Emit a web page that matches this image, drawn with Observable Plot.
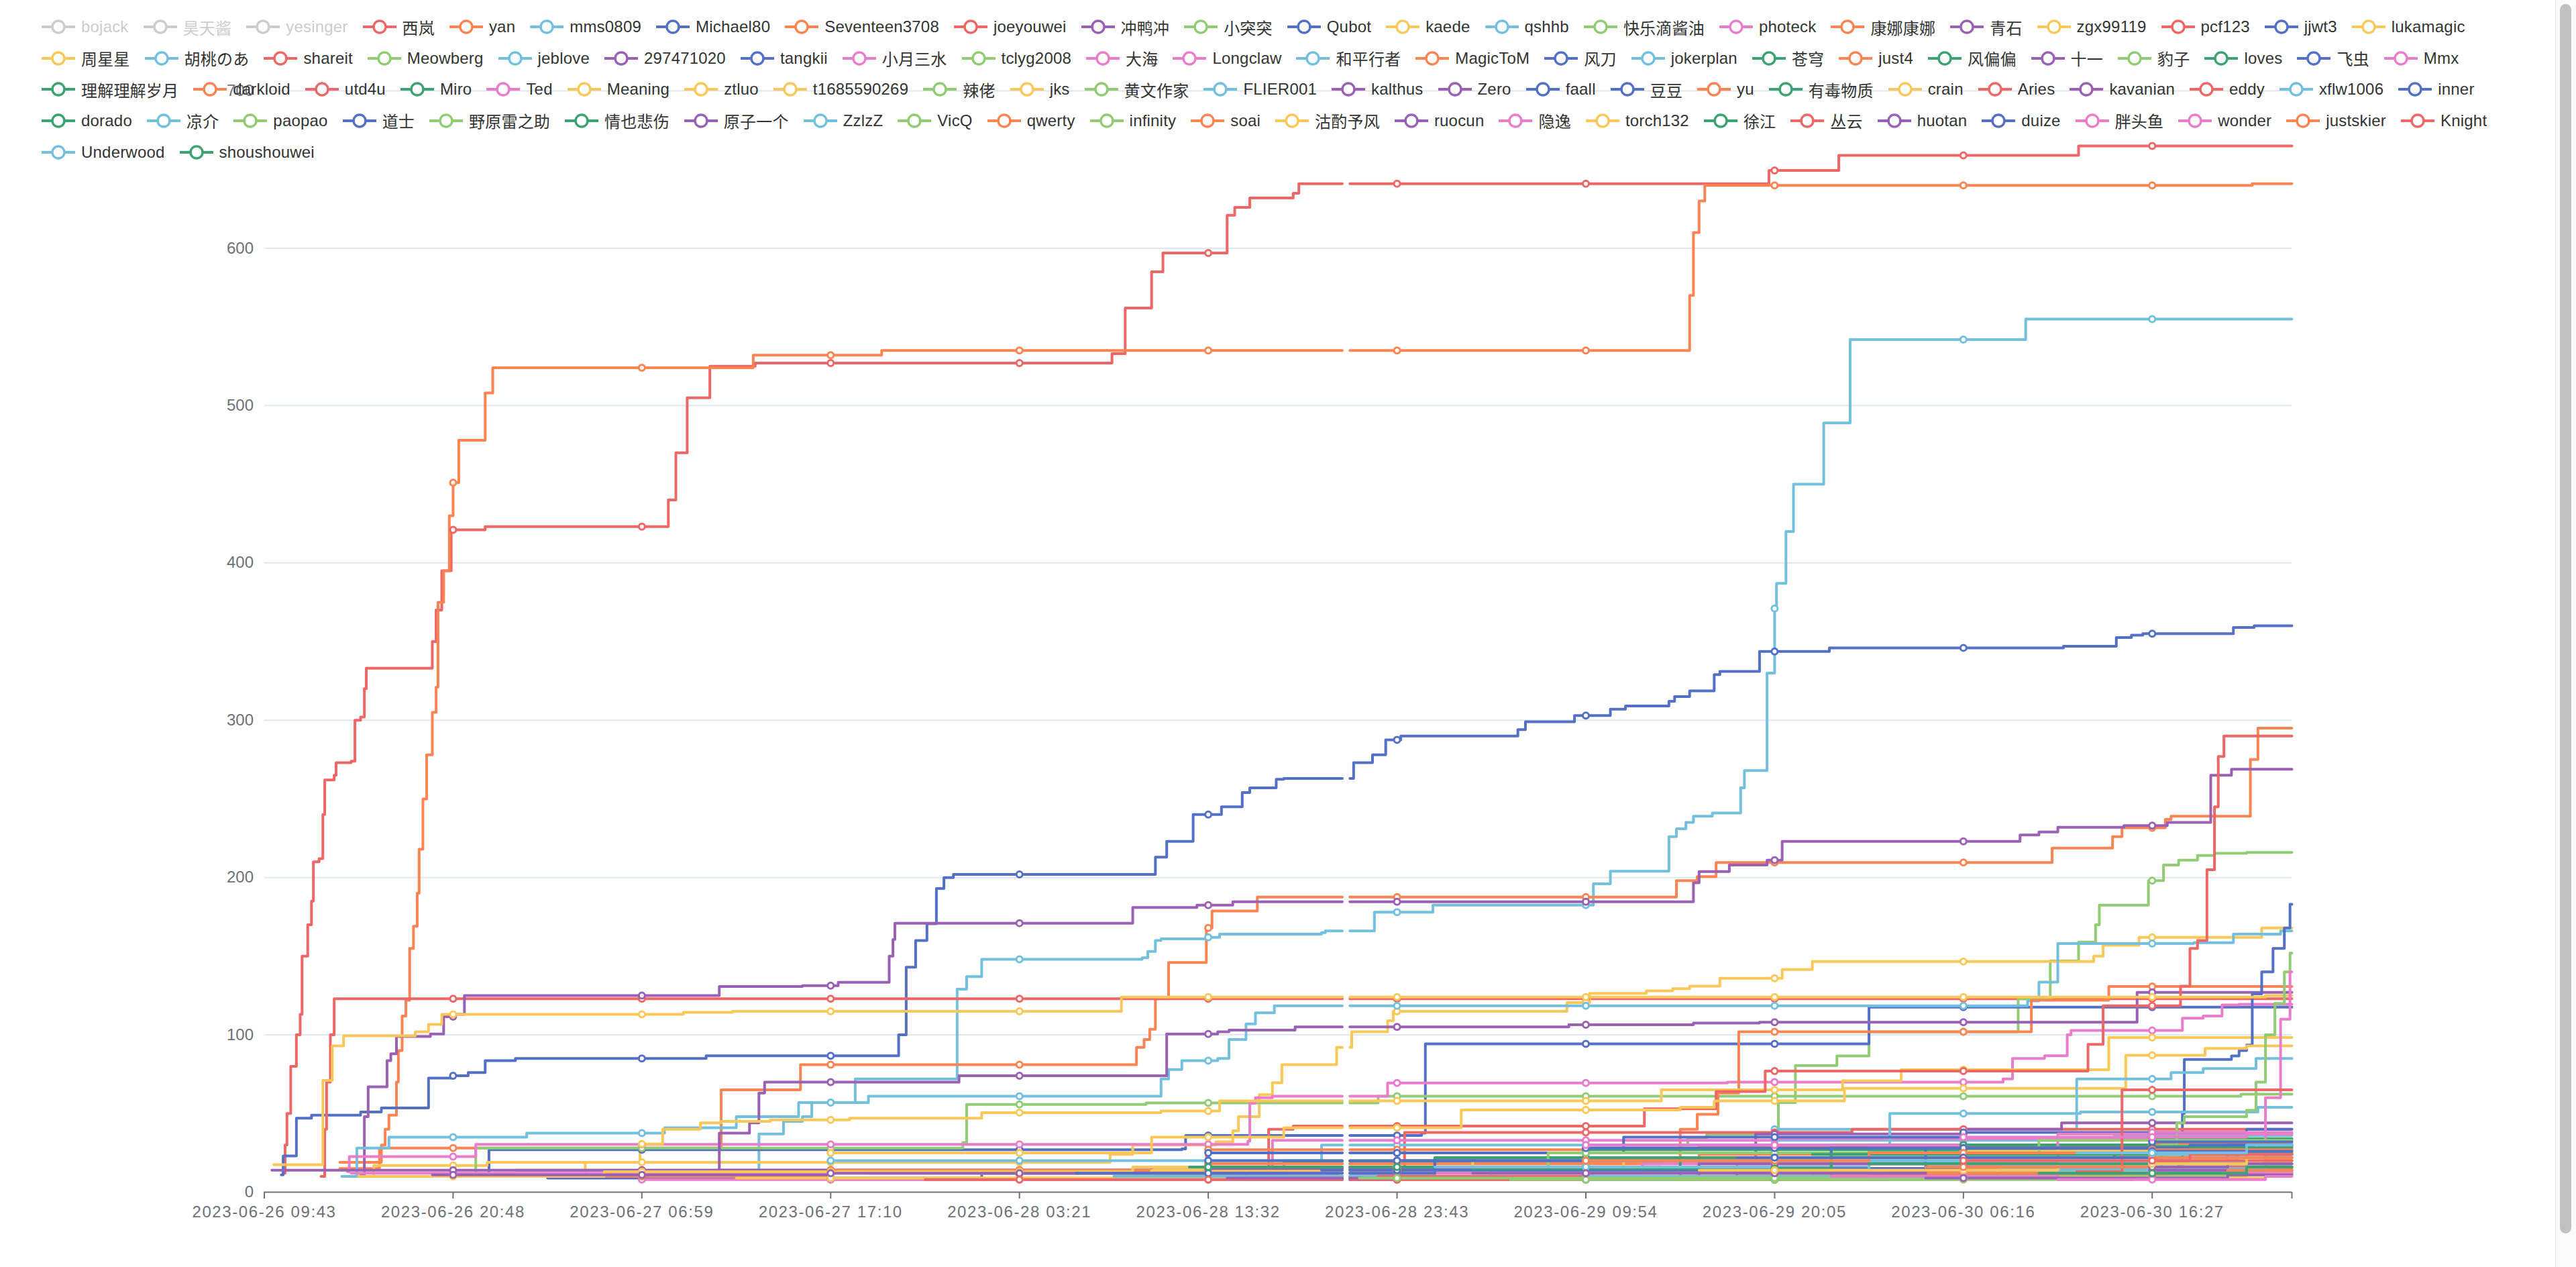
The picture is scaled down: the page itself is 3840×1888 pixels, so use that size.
<!DOCTYPE html>
<html>
<head>
<meta charset="utf-8">
<script src="https://cdn.jsdelivr.net/npm/d3@7"></script>
<script src="https://cdn.jsdelivr.net/npm/@observablehq/plot@0.6"></script>
<style>
html, body { margin: 0; padding: 0; background: #fff; overflow: hidden; width: 3840px; height: 1888px; }
#wrap { position: relative; width: 3840px; height: 1888px; }
#chart { position: absolute; left: 0; top: 0; }
#chart g[aria-label="x-axis tick label"] text { letter-spacing: 1.6px; }
#legend { position: absolute; left: 62px; top: 26px; z-index: 2; font-family: "Liberation Sans", "Noto Sans CJK SC", sans-serif; font-size: 24px; letter-spacing: 0.2px; color: #333; }
.row { display: flex; height: 28px; margin-bottom: 18.67px; align-items: center; white-space: nowrap; }
.item { display: flex; align-items: center; margin-right: 22px; }
.item svg { margin-right: 9px; display: block; }
.item.off { color: #ccc; }
#sb { position: absolute; left: 3809px; top: 0; width: 31px; height: 1888px; background: #fafafa; border-left: 1px solid #e6e6e6; box-sizing: border-box; }
#thumb { position: absolute; left: 6px; top: 6px; width: 17px; height: 1832px; border-radius: 9px; background: #c1c1c1; }
</style>
</head>
<body>
<div id="wrap"><div id="chart"></div><div id="legend"></div><div id="sb"><div id="thumb"></div></div></div>
<script>
// ---------- data ----------
const tickLabels = ["2023-06-26 09:43","2023-06-26 20:48","2023-06-27 06:59","2023-06-27 17:10","2023-06-28 03:21","2023-06-28 13:32","2023-06-28 23:43","2023-06-29 09:54","2023-06-29 20:05","2023-06-30 06:16","2023-06-30 16:27"];
const yTicks = [0, 100, 200, 300, 400, 500, 600, 700];
const TICK_STEP = 100;   // category units between two labelled ticks
const END = 1074;        // last category
const GAP = [571, 575];  // category with no value (line break)

const names = [
  "bojack","昊天酱","yesinger","西岚","yan","mms0809","Michael80","Seventeen3708","joeyouwei","冲鸭冲","小突突","Qubot","kaede","qshhb","快乐滴酱油","photeck","康娜康娜","青石","zgx99119","pcf123","jjwt3","lukamagic",
  "周星星","胡桃のあ","shareit","Meowberg","jeblove","297471020","tangkii","小月三水","tclyg2008","大海","Longclaw","和平行者","MagicToM","风刀","jokerplan","苍穹","just4","风偏偏","十一","豹子","loves","飞虫","Mmx",
  "理解理解岁月","darkloid","utd4u","Miro","Ted","Meaning","ztluo","t1685590269","辣佬","jks","黄文作家","FLIER001","kalthus","Zero","faall","豆豆","yu","有毒物质","crain","Aries","kavanian","eddy","xflw1006","inner",
  "dorado","凉介","paopao","道士","野原雷之助","情也悲伤","原子一个","ZzlzZ","VicQ","qwerty","infinity","soai","沽酌予风","ruocun","隐逸","torch132","徐江","丛云","huotan","duize","胖头鱼","wonder","justskier","Knight",
  "Underwood","shoushouwei"
];
const hidden = ["bojack", "昊天酱", "yesinger"];
const legendRowCounts = [22, 23, 24, 24, 2];

// step data per series: category, cumulative value, category, value, ...
const steps = [
  [], [], [],
  [10,12, 11,30, 12,50, 14,80, 17,100, 19,113, 20,150, 23,170, 25,185, 26,210, 29,212, 31,240, 32,262, 37,265, 38,273, 46,274, 48,300, 51,302, 53,320, 54,333, 89,350, 91,370, 94,395, 99,421, 117,423, 214,440, 218,470, 224,505, 236,525, 260,527, 449,533, 456,562, 470,585, 476,597, 510,621, 514,626, 522,632, 545,635, 548,641, 797,649.5, 834,659, 961,665],
  [40,19, 62,30, 64,40, 66,49, 70,70, 71,90, 73,112, 75,122, 77,155, 79,169, 81,190, 82,218, 84,250, 86,278, 89,305, 91,321, 92,375, 95,395, 98,430, 100,451, 103,478, 117,508, 121,524, 259,532, 327,535, 755,570, 757,610, 760,630, 763,640, 1053,641],
  [259,10, 262,37, 275,45, 285,48, 290,57, 313,72, 367,129, 372,137, 380,148, 465,149, 468,153, 472,160, 475,161, 499,162, 506,164, 560,165, 562,166, 588,178, 619,182.5, 704,196, 713,204, 744,226, 748,231, 753,235, 757,239, 767,241, 782,257, 784,268, 796,330, 800,371, 801,387, 806,420, 810,450, 826,489, 840,542, 933,555],
  [9,11, 10,23, 17,47, 25,49, 51,51, 62,53.5, 87,72.5, 100,74, 108,76, 117,83.6, 133,85, 234,86.7, 336,100, 340,143, 345,160, 351,170.6, 356,193, 360,200, 365,202, 472,213, 478,223, 492,240, 507,245, 518,254, 522,257, 536,262.5, 540,263, 577,273, 587,278, 594,287.5, 602,290, 664,294, 668,299, 694,303, 713,307, 721,309, 744,312, 747,315, 755,318.6, 768,329, 771,331, 792,343.7, 829,346, 953,347, 981,352.6, 989,354, 995,355, 1043,359, 1054,360],
  [40,15, 61,28, 242,65, 284,81, 462,92, 466,97, 469,103.6, 472,123, 479,146, 499,168, 502,178.7, 526,187.6, 748,198, 759,200.6, 769,209.6, 947,218.7, 979,226, 984,231.6, 1007,237, 1010,239, 1052,275, 1056,295],
  [30,10, 32,40, 33,70, 35,100, 37,123],
  [51,11, 53,48, 55,67, 65,83.6, 67,88, 70,99, 88,100.6, 95,111.5, 101,113, 106,125, 241,130.7, 285,131.3, 304,133.4, 331,150, 333,160.6, 334,171, 460,181, 494,182.5, 513,184.6, 757,196.7, 760,203.8, 776,208, 796,211, 804,223, 930,227, 940,229, 950,232, 985,233, 1008,235, 1031,265, 1042,268.8],
  [380,12, 540,20, 700,30, 754,34.5, 764,36.7, 802,57, 811,80.5, 833,86.6, 850,102, 929,123, 946,147, 961,159, 970,170, 972,182.5, 998,198, 1006,208, 1014,211, 1024,214, 1033,215.4, 1050,216],
  [118,10, 119,27, 486,27.5, 488,36, 613,37.5, 615,94.3, 850,117.6],
  [47,10, 58,17, 118,19, 448,24, 460,30, 504,32, 513,39, 516,48, 527,62, 534,69.5, 539,81, 568,92, 576,102, 595,109, 598,115, 690,120.5, 702,126.4, 732,128, 746,129.4, 755,131, 771,136, 804,141.5, 820,146.6, 969,150, 974,157, 993,162, 1058,168],
  [41,10, 49,28, 66,35, 139,37.5, 212,41, 250,48, 283,57, 320,61, 475,72, 479,78, 486,83.6, 505,85, 511,97, 520,107, 525,114, 535,118.5, 934,121.6, 940,133.5, 950,158, 1022,158.6, 1043,164, 1068,166],
  [105,10, 112,28, 370,31.6, 372,55.8, 467,56.7, 590,61, 1047,62.3],
  [44,13, 45,22.6, 112,30.4, 521,32.4, 522,56.5, 525,60, 534,61, 595,69.4, 775,70, 921,72, 926,85, 943,86.7, 955,100, 957,102.8, 1016,110.6, 1027,112, 1037,119, 1046,119.4],
  [500,18, 740,21, 750,40, 759,49.5, 770,63, 781,102, 936,122, 977,130.7],
  [238,10, 241,37.5, 257,44, 262,63, 265,70, 368,74, 478,100.6, 505,102, 511,103, 546,105, 691,106.4, 757,107.5, 792,108, 992,127],
  [168,10, 170,19, 199,30.6, 211,40, 231,44, 242,45, 268,46, 310,47, 380,50.6, 475,51.6, 506,58, 740,65, 836,70.8, 867,77.8, 977,98.3],
  [531,12, 532,40, 545,42, 731,53, 769,64, 795,77, 966,94, 974,118.5, 1015,131, 1020,155, 1024,160, 1029,205, 1033,245, 1035,277, 1038,290],
  [985,10, 1014,16.6, 1016,50, 1017,84.4, 1042,86.6, 1046,90, 1050,93.5, 1053,126, 1058,140, 1064,155, 1070,168, 1073,183],
  [300,25, 470,35, 540,41, 634,52.3, 750,54, 768,58, 837,66, 986,87, 1028,91.4, 1050,93],
  [5,17.5, 31,71, 36,93, 42,99.4, 80,102, 87,106.6, 94,113, 222,114.3, 248,115, 454,124, 1060,125],
  [560,25, 800,40, 960,72, 1010,76, 1027,78.6, 1055,85],
  [133,14, 604,38, 841,40],
  [300,8, 520,15, 700,22, 900,30, 1040,34],
  [230,10, 300,20, 560,30, 800,33, 980,36],
  [480,12, 600,20, 790,37, 901,40, 952,44],
  [150,9, 380,12, 600,25, 850,30, 1000,33],
  [200,8, 534,33, 800,34, 1000,37],
  [450,9, 620,20, 850,26, 1030,30],
  [600,10, 780,18, 1040,24],
  [46,12, 700,15, 1060,20],
  [700,30, 861,50, 962,51, 1056,54],
  [320,12, 499,27, 760,29, 1000,31],
  [240,14, 500,25, 720,35, 900,38, 1050,40],
  [400,8, 600,16, 850,20, 1045,26],
  [540,19.6, 700,27, 830,30, 1000,34],
  [560,10, 750,15, 1060,18],
  [480,12, 620,22, 830,28, 1060,30],
  [4,14, 470,16, 700,20, 980,24],
  [700,8, 990,10, 1005,30, 1013,44, 1017,48, 1050,52, 1055,70, 1060,100, 1065,120, 1070,140, 1073,152],
  [620,8, 830,12, 1066,16],
  [520,8, 700,15, 900,18],
  [840,10, 1040,15, 1060,60, 1068,110, 1073,140],
  [560,10, 830,27, 1000,29],
  [150,10, 300,14, 500,18, 760,24, 960,26],
  [700,10, 900,14, 1060,20],
  [600,12, 760,20, 900,24],
  [500,12, 730,18, 950,37, 1000,38],
  [350,9, 470,14, 640,20, 900,26, 1055,30],
  [50,10, 180,13, 460,16, 720,20, 1050,24],
  [600,8, 800,10, 1000,14],
  [380,12, 500,16, 680,25, 940,33],
  [250,9, 570,14, 850,18],
  [560,9, 820,12, 1050,16],
  [450,10, 650,14, 850,19, 1050,24],
  [89,11, 300,12, 500,15, 760,18, 1000,22],
  [680,8, 860,13],
  [430,12, 620,20, 830,28, 1040,30],
  [800,10, 1000,12],
  [600,8, 850,11, 1040,15],
  [820,24, 1000,27],
  [650,10, 900,13, 1050,20],
  [350,8, 700,12, 950,16],
  [510,9, 780,12],
  [590,10, 760,12, 1000,20],
  [760,10, 900,14, 1050,18],
  [560,14, 880,28, 1020,30],
  [640,15, 830,24, 1020,28],
  [700,10, 920,15, 1060,18],
  [800,12, 1000,18],
  [500,20, 700,28, 1000,32],
  [580,9, 900,12],
  [490,16, 750,22, 1000,25],
  [870,10, 1000,14],
  [620,16, 800,20, 1000,24],
  [660,8, 900,10, 1050,14],
  [700,20, 850,25, 1000,27],
  [750,9, 1010,11],
  [830,12, 1040,14],
  [900,9, 1060,12],
  [640,12, 880,16, 1040,18],
  [830,10, 950,12],
  [760,14, 950,18, 1050,22],
  [850,18, 1000,22],
  [960,13, 984,65],
  [880,9, 1040,11],
  [780,22, 1000,26],
  [700,30, 900,35, 1050,37],
  [950,8, 1060,10],
  [880,16, 1000,22],
  [900,20, 1020,24],
  [960,25, 1050,30],
  [940,12, 1050,16]
];

// ---------- styles ----------
const C = { blue: "#5470c6", green: "#91cc75", yellow: "#fac858", red: "#ee6666", lblue: "#73c0de", dgreen: "#3ba272", orange: "#fc8452", purple: "#9a60b4", pink: "#ea7ccc" };
const seriesColors = [
  C.blue, C.green, C.yellow, C.red, C.orange, C.lblue, C.blue, C.orange, C.red, C.purple, C.green, C.blue, C.yellow, C.lblue, C.green, C.pink, C.orange, C.purple, C.yellow, C.red, C.blue, C.yellow,
  C.yellow, C.lblue, C.red, C.green, C.lblue, C.purple, C.blue, C.pink, C.green, C.pink, C.pink, C.lblue, C.orange, C.blue, C.lblue, C.dgreen, C.orange, C.dgreen, C.purple, C.green, C.dgreen, C.blue, C.pink,
  C.dgreen, C.orange, C.red, C.dgreen, C.pink, C.yellow, C.yellow, C.yellow, C.green, C.yellow, C.green, C.lblue, C.purple, C.purple, C.blue, C.blue, C.orange, C.dgreen, C.yellow, C.red, C.purple, C.red, C.lblue, C.blue,
  C.dgreen, C.lblue, C.green, C.blue, C.green, C.dgreen, C.purple, C.lblue, C.green, C.orange, C.green, C.orange, C.yellow, C.purple, C.pink, C.yellow, C.dgreen, C.red, C.purple, C.blue, C.pink, C.pink, C.orange, C.red,
  C.lblue, C.dgreen
];

// ---------- build rows ----------
const lineRows = [], dotRows = [];
names.forEach((name, i) => {
  const s = steps[i];
  if (hidden.includes(name) || !s || !s.length) return;
  const color = seriesColors[i];
  const pts = [];
  for (let k = 0; k < s.length; k += 2) pts.push([s[k], s[k + 1]]);
  const start = pts[0][0];
  const valueAt = x => { let v; for (const [px, py] of pts) if (px <= x) v = py; return v; };
  let xs = pts.map(p => p[0]).filter(x => x <= GAP[0] || x >= GAP[1]);
  if (start <= GAP[0]) xs.push(GAP[0], GAP[1]);
  xs.push(END);
  xs = Array.from(new Set(xs)).sort((a, b) => a - b);
  for (const x of xs) {
    if (x === GAP[1] && start <= GAP[0]) lineRows.push({ name, color, x: (GAP[0] + GAP[1]) / 2, y: NaN });
    lineRows.push({ name, color, x, y: valueAt(x) });
  }
  for (let t = TICK_STEP; t < END; t += TICK_STEP) if (t >= start) dotRows.push({ name, color, x: t, y: valueAt(t) });
});

const xTicks = tickLabels.map((_, i) => i * TICK_STEP).concat([END]);

const chart = Plot.plot({
  width: 3810,
  height: 1888,
  marginLeft: 393.5,
  marginRight: 394,
  marginTop: 135,
  marginBottom: 112,
  x: { domain: [0, END] },
  y: { domain: [0, 700] },
  color: { type: "identity" },
  style: { fontFamily: "'Liberation Sans', 'Noto Sans CJK SC', sans-serif", fontSize: "24px", color: "#6E7079", background: "transparent", overflow: "visible" },
  marks: [
    Plot.gridY({ ticks: yTicks.filter(v => v > 0), stroke: "#E0E6F1", strokeOpacity: 1, strokeWidth: 2 }),
    Plot.line(lineRows, { x: "x", y: "y", z: "name", stroke: "color", curve: "step-after", strokeWidth: 4 }),
    Plot.dot(dotRows, { x: "x", y: "y", stroke: "color", fill: "#fff", r: 4.5, strokeWidth: 3 }),
    Plot.ruleY([0], { stroke: "#6E7079", strokeWidth: 2 }),
    Plot.axisX({ ticks: xTicks, tickFormat: d => tickLabels[d / TICK_STEP] ?? "", tickSize: 10, tickPadding: 10, fontSize: 24, label: null, strokeWidth: 2 }),
    Plot.axisY({ ticks: yTicks, tickSize: 0, tickPadding: 16, fontSize: 24, label: null })
  ]
});
document.getElementById("chart").appendChild(chart);

// ---------- legend ----------
const legend = document.getElementById("legend");
let n = 0;
legendRowCounts.forEach(count => {
  const row = document.createElement("div");
  row.className = "row";
  for (let k = 0; k < count; k++, n++) {
    const name = names[n];
    const off = hidden.includes(name);
    const c = off ? "#ccc" : seriesColors[n];
    const item = document.createElement("div");
    item.className = "item" + (off ? " off" : "");
    item.innerHTML = `<svg width="50" height="28"><line x1="0" x2="50" y1="14" y2="14" stroke="${c}" stroke-width="4"/><circle cx="25" cy="14" r="9" fill="#fff" stroke="${c}" stroke-width="3.5"/></svg><span>${name}</span>`;
    row.appendChild(item);
  }
  legend.appendChild(row);
});
</script>
</body>
</html>
